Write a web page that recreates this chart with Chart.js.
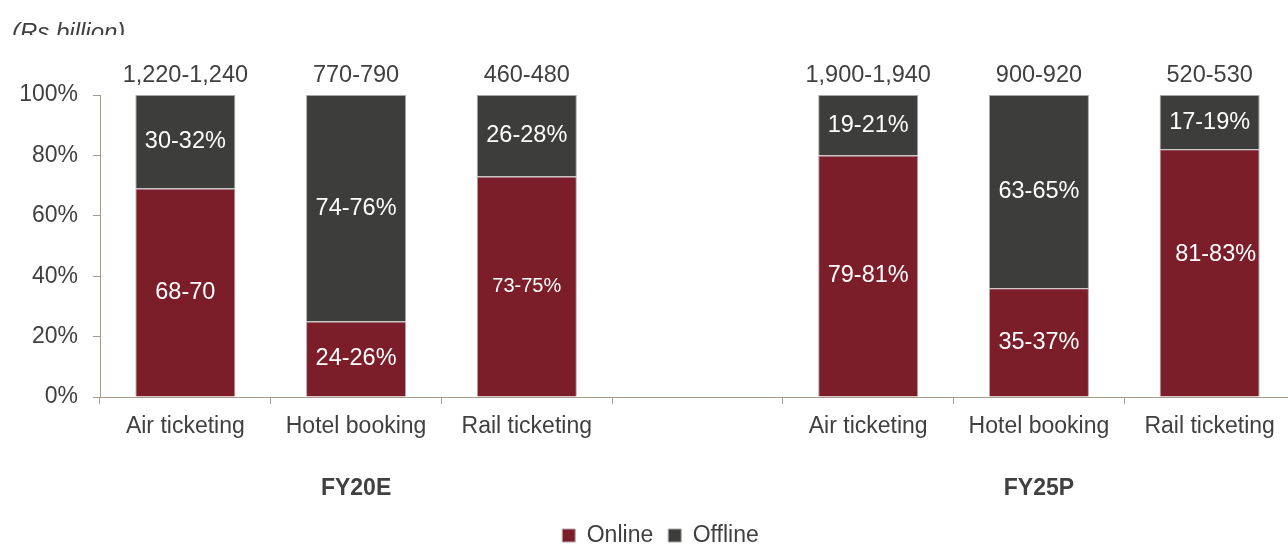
<!DOCTYPE html>
<html>
<head>
<meta charset="utf-8">
<style>
  html, body { margin: 0; padding: 0; overflow: hidden; background: #ffffff; }
  #wrap { position: absolute; left: 0; top: 0; width: 1321px; height: 557px; }
</style>
<script src="https://cdn.jsdelivr.net/npm/chart.js@4/dist/chart.umd.min.js"></script>
</head>
<body>
<div id="wrap"><canvas id="c"></canvas></div>
<script>
// ---- data ----
const categories = ['Air ticketing', 'Hotel booking', 'Rail ticketing', '', 'Air ticketing', 'Hotel booking', 'Rail ticketing'];
const periods = ['', 'FY20E', '', '', '', 'FY25P', ''];
const seriesNames = ['Online', 'Offline'];
const onlineShare = [69, 25, 73, null, 80, 36, 82];
const offlineShare = [31, 75, 27, null, 20, 64, 18];
const onlineLabels = ['68-70', '24-26%', '73-75%', '', '79-81%', '35-37%', '81-83%'];
const offlineLabels = ['30-32%', '74-76%', '26-28%', '', '19-21%', '63-65%', '17-19%'];
const marketSize = ['1,220-1,240', '770-790', '460-480', '', '1,900-1,940', '900-920', '520-530'];
const yTicks = [0, 20, 40, 60, 80, 100];
const unitNote = '(Rs billion)';

// ---- styles ----
const FONT = '"Liberation Sans", Arial, sans-serif';
const TEXT = '#404040';
const AXIS = '#a89b8c';
const ONLINE = '#7b1e2a';
const OFFLINE = '#3d3d3b';

const labelPlugin = {
  id: 'barLabels',
  afterDatasetsDraw(chart, args, opts) {
    const ctx = chart.ctx;
    const yScale = chart.scales.y;
    const texts = [onlineLabels, offlineLabels];
    ctx.save();
    ctx.textAlign = 'center';
    ctx.textBaseline = 'middle';
    chart.data.datasets.forEach((ds, di) => {
      const meta = chart.getDatasetMeta(di);
      meta.data.forEach((bar, i) => {
        const t = texts[di][i];
        if (!t || ds.data[i] == null) return;
        const tw = (opts.tweaks[di] && opts.tweaks[di][i]) || {};
        ctx.font = (tw.size || 23.5) + 'px ' + FONT;
        ctx.fillStyle = '#ffffff';
        const cy = (bar.y + bar.base) / 2 + (tw.dy || 0);
        ctx.fillText(t, bar.x + (tw.dx || 0), cy);
      });
    });
    // totals above stacks
    const meta0 = chart.getDatasetMeta(0);
    ctx.font = '23.5px ' + FONT;
    ctx.fillStyle = TEXT;
    meta0.data.forEach((bar, i) => {
      if (!marketSize[i]) return;
      ctx.fillText(marketSize[i], bar.x, yScale.getPixelForValue(100) - 19.5);
    });
    // unit note (clipped like the reference)
    ctx.beginPath();
    ctx.rect(0, 0, 400, 35);
    ctx.clip();
    ctx.textAlign = 'left';
    ctx.textBaseline = 'alphabetic';
    ctx.font = 'italic 24px ' + FONT;
    ctx.fillText(unitNote, 12, 40);
    ctx.restore();
  }
};

new Chart(document.getElementById('c'), {
  type: 'bar',
  data: {
    labels: categories,
    datasets: [
      { label: seriesNames[0], data: onlineShare, backgroundColor: ONLINE, borderColor: '#b0a8a8', borderWidth: 1, borderSkipped: 'start' },
      { label: seriesNames[1], data: offlineShare, backgroundColor: OFFLINE, borderColor: '#a8a8a8', borderWidth: 1, borderSkipped: 'start' }
    ]
  },
  options: {
    responsive: true,
    maintainAspectRatio: false,
    devicePixelRatio: 1,
    animation: false,
    barPercentage: 0.586,
    categoryPercentage: 1,
    layout: { padding: { top: 95, left: 0, right: 0, bottom: 0 } },
    scales: {
      x: {
        stacked: true,
        offset: true,
        grid: { offset: true, drawOnChartArea: false, drawTicks: true, tickLength: 7, color: AXIS, lineWidth: 1 },
        border: { color: AXIS, width: 1 },
        ticks: { font: { family: FONT, size: 23 }, color: TEXT, padding: 9, autoSkip: false, maxRotation: 0 },
        afterFit(s) { s.height = 50; }
      },
      x2: {
        type: 'category',
        position: 'bottom',
        labels: periods,
        offset: true,
        grid: { display: false, drawTicks: false, drawOnChartArea: false },
        border: { display: false },
        ticks: { font: { family: FONT, size: 23, weight: 'bold' }, color: TEXT, padding: 27.5, autoSkip: false, maxRotation: 0 },
        afterFit(s) { s.height = 62; }
      },
      y: {
        stacked: true,
        min: 0,
        max: 100,
        afterBuildTicks(s) { s.ticks = yTicks.map(v => ({ value: v })); },
        grid: { drawOnChartArea: false, drawTicks: true, tickLength: 7, color: AXIS, lineWidth: 1 },
        border: { color: AXIS, width: 1 },
        ticks: { font: { family: FONT, size: 23 }, color: TEXT, padding: 15, callback: v => v + '%' },
        afterFit(s) { s.width = 100; }
      },
      yR: {
        type: 'linear',
        position: 'right',
        grid: { display: false, drawTicks: false },
        border: { display: false },
        ticks: { display: false },
        afterFit(s) { s.width = 26; }
      }
    },
    plugins: {
      legend: {
        position: 'bottom',
        labels: { font: { family: FONT, size: 23 }, color: TEXT, boxWidth: 13, boxHeight: 13, padding: 15 }
      },
      tooltip: { enabled: false },
      barLabels: {
        tweaks: [
          { 2: { size: 20 }, 6: { dx: 6, dy: -18 } },
          {}
        ]
      }
    }
  },
  plugins: [labelPlugin]
});
</script>
</body>
</html>
